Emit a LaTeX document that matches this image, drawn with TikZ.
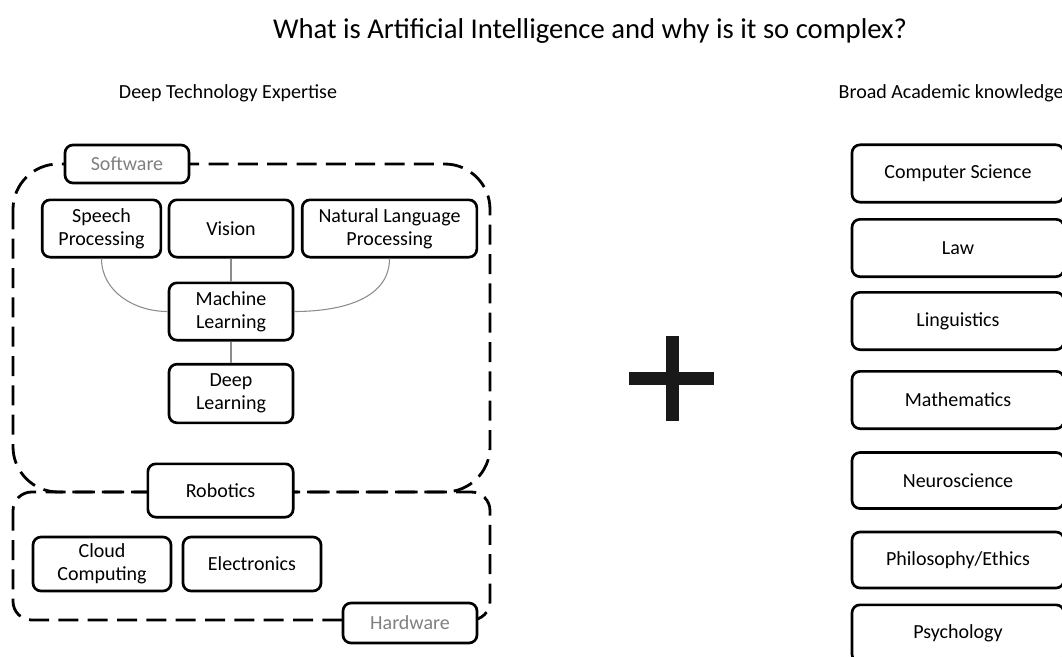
\documentclass[tikz,border=0pt]{standalone}
\usepackage{fontspec}
\setmainfont{Carlito}
\usepackage{tikz}
\usetikzlibrary{positioning}

\tikzset{
  tbox/.style={draw, fill=white, rounded corners=6pt, line width=2pt, align=center,
    inner sep=0pt, font=\fontsize{15}{17}\selectfont},
  tag/.style={tbox, text=black!50},
  region/.style={line width=2.1pt, dash pattern=on 15pt off 7pt},
  link/.style={draw=black!45, line width=0.8pt}
}

\begin{document}
\begin{tikzpicture}[x=0.75pt,y=-0.75pt]
  \useasboundingbox (0,0) rectangle (1062,656);
  \node (title) at (590,31) {\fontsize{21.5}{25}\selectfont What is Artificial Intelligence and why is it so complex?};
  \node (deep) at (228,93) {\fontsize{15}{18}\selectfont Deep Technology Expertise};
  \node[anchor=west] (broad) at (834,93) {\fontsize{15}{18}\selectfont Broad Academic knowledge};

  % dashed groups
  \draw[region, rounded corners=34pt] (13,164) rectangle (490,492);
  \draw[region, rounded corners=14pt] (13,492) rectangle (490,620);

  \node[tag, minimum width=93pt, minimum height=28.5pt] (sw) at (127,164) {Software};
  \node[tbox, minimum width=89pt, minimum height=43pt] (speech) at (101.5,228.5) {Speech\\Processing};
  \node[tbox, minimum width=93pt, minimum height=43pt] (vision) at (231,228.5) {Vision};
  \node[tbox, minimum width=131pt, minimum height=43pt] (nlp) at (389.5,228.5) {Natural Language\\Processing};
  \node[tbox, minimum width=93pt, minimum height=43pt] (ml) at (231,311.5) {Machine\\Learning};
  \node[tbox, minimum width=93pt, minimum height=44pt] (dl) at (231,393.5) {Deep\\Learning};

  \draw[link] (vision) -- (ml);
  \draw[link] (ml) -- (dl);
  \draw[link] (speech.south) to[out=-90,in=180] (ml.west);
  \draw[link] (nlp.south) to[out=-90,in=0] (ml.east);

  \node[tbox, minimum width=109pt, minimum height=40pt] (robot) at (220.5,490.5) {Robotics};
  \node[tbox, minimum width=103.5pt, minimum height=40.5pt] (cloud) at (102,564) {Cloud\\Computing};
  \node[tbox, minimum width=103.5pt, minimum height=40.5pt] (elec) at (252,564) {Electronics};
  \node[tag, minimum width=100.5pt, minimum height=30pt] (hw) at (410,623) {Hardware};

  % plus sign
  \fill[black!90] (666,336) rectangle (679,421);
  \fill[black!90] (629,372) rectangle (714,385);

  % academic fields
  \node[tbox, minimum width=159pt, minimum height=43pt] (cs) at (958,173.5) {Computer Science};
  \node[tbox, minimum width=159pt, minimum height=43pt] (law) at (958,248) {Law};
  \node[tbox, minimum width=159pt, minimum height=43pt] (ling) at (958,321) {Linguistics};
  \node[tbox, minimum width=159pt, minimum height=43pt] (math) at (958,400) {Mathematics};
  \node[tbox, minimum width=159pt, minimum height=42pt] (neuro) at (958,480.5) {Neuroscience};
  \node[tbox, minimum width=159pt, minimum height=42pt] (phil) at (958,560) {Philosophy/Ethics};
  \node[tbox, minimum width=159pt, minimum height=43pt] (psych) at (958,633.5) {Psychology};
\end{tikzpicture}
\end{document}
